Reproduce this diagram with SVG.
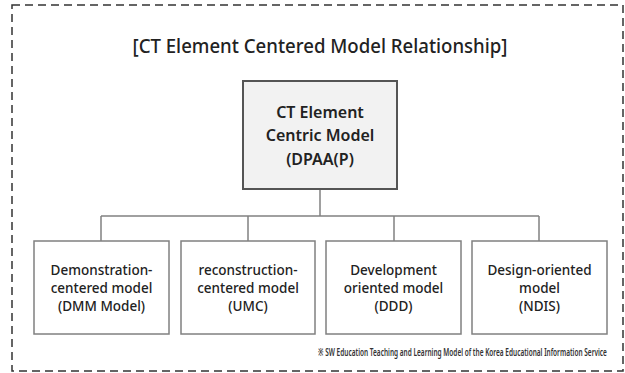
<svg xmlns="http://www.w3.org/2000/svg" width="625" height="373" viewBox="0 0 625 373">
  <style>
    .frame { fill: #ffffff; stroke: #333333; stroke-width: 1.5; stroke-dasharray: 8 5; }
    .title { font-family: "Noto Sans", "Open Sans", sans-serif; font-size: 19.5px; font-weight: 500; fill: #222222; text-anchor: middle; }
    .root { fill: #f2f2f2; stroke: #555555; stroke-width: 2; }
    .root-text { font-family: "Noto Sans", "Open Sans", sans-serif; font-size: 16px; font-weight: 600; fill: #222222; text-anchor: middle; }
    .child { fill: #ffffff; stroke: #808080; stroke-width: 1.5; }
    .child-text { font-family: "Noto Sans", "Open Sans", sans-serif; font-size: 13.5px; font-weight: 500; fill: #222222; text-anchor: middle; }
    .link { fill: none; stroke: #808080; stroke-width: 1.5; }
    .note { font-family: "Noto Sans", "Open Sans", sans-serif; font-size: 11px; font-weight: 600; fill: #333333; text-anchor: start; }
  </style>

  <rect x="0" y="0" width="625" height="373" fill="#ffffff"/>
  <rect class="frame" x="12" y="5" width="611" height="366"/>

  <text class="title" x="320" y="53" textLength="375" lengthAdjust="spacingAndGlyphs">[CT Element Centered Model Relationship]</text>

  <g id="connectors">
    <path class="link" d="M320 189 V216"/>
    <path class="link" d="M101 216 H539"/>
    <path class="link" d="M101 216 V241"/>
    <path class="link" d="M248 216 V241"/>
    <path class="link" d="M394 216 V241"/>
    <path class="link" d="M539 216 V241"/>
  </g>

  <g id="root-model">
    <rect class="root" x="243" y="81" width="154" height="108"/>
    <text class="root-text" x="320" y="118">CT Element</text>
    <text class="root-text" x="320" y="141">Centric Model</text>
    <text class="root-text" x="320" y="165">(DPAA(P)</text>
  </g>

  <g id="demonstration-model">
    <rect class="child" x="34" y="241" width="135" height="93"/>
    <text class="child-text" x="101.5" y="275">Demonstration-</text>
    <text class="child-text" x="101.5" y="293">centered model</text>
    <text class="child-text" x="101.5" y="311">(DMM Model)</text>
  </g>

  <g id="reconstruction-model">
    <rect class="child" x="181" y="241" width="134" height="93"/>
    <text class="child-text" x="248" y="275">reconstruction-</text>
    <text class="child-text" x="248" y="293">centered model</text>
    <text class="child-text" x="248" y="311">(UMC)</text>
  </g>

  <g id="development-model">
    <rect class="child" x="326" y="241" width="135" height="93"/>
    <text class="child-text" x="393.5" y="275">Development</text>
    <text class="child-text" x="393.5" y="293">oriented model</text>
    <text class="child-text" x="393.5" y="311">(DDD)</text>
  </g>

  <g id="design-model">
    <rect class="child" x="472" y="241" width="135" height="93"/>
    <text class="child-text" x="539.5" y="275">Design-oriented</text>
    <text class="child-text" x="539.5" y="293">model</text>
    <text class="child-text" x="539.5" y="311">(NDIS)</text>
  </g>

  <!-- source note, narrowed horizontally to sit under the right-hand boxes -->
  <g transform="translate(318 356) scale(0.62 1)">
    <text class="note" x="0" y="0" textLength="466" lengthAdjust="spacingAndGlyphs">※ SW Education Teaching and Learning Model of the Korea Educational Information Service</text>
  </g>
</svg>
